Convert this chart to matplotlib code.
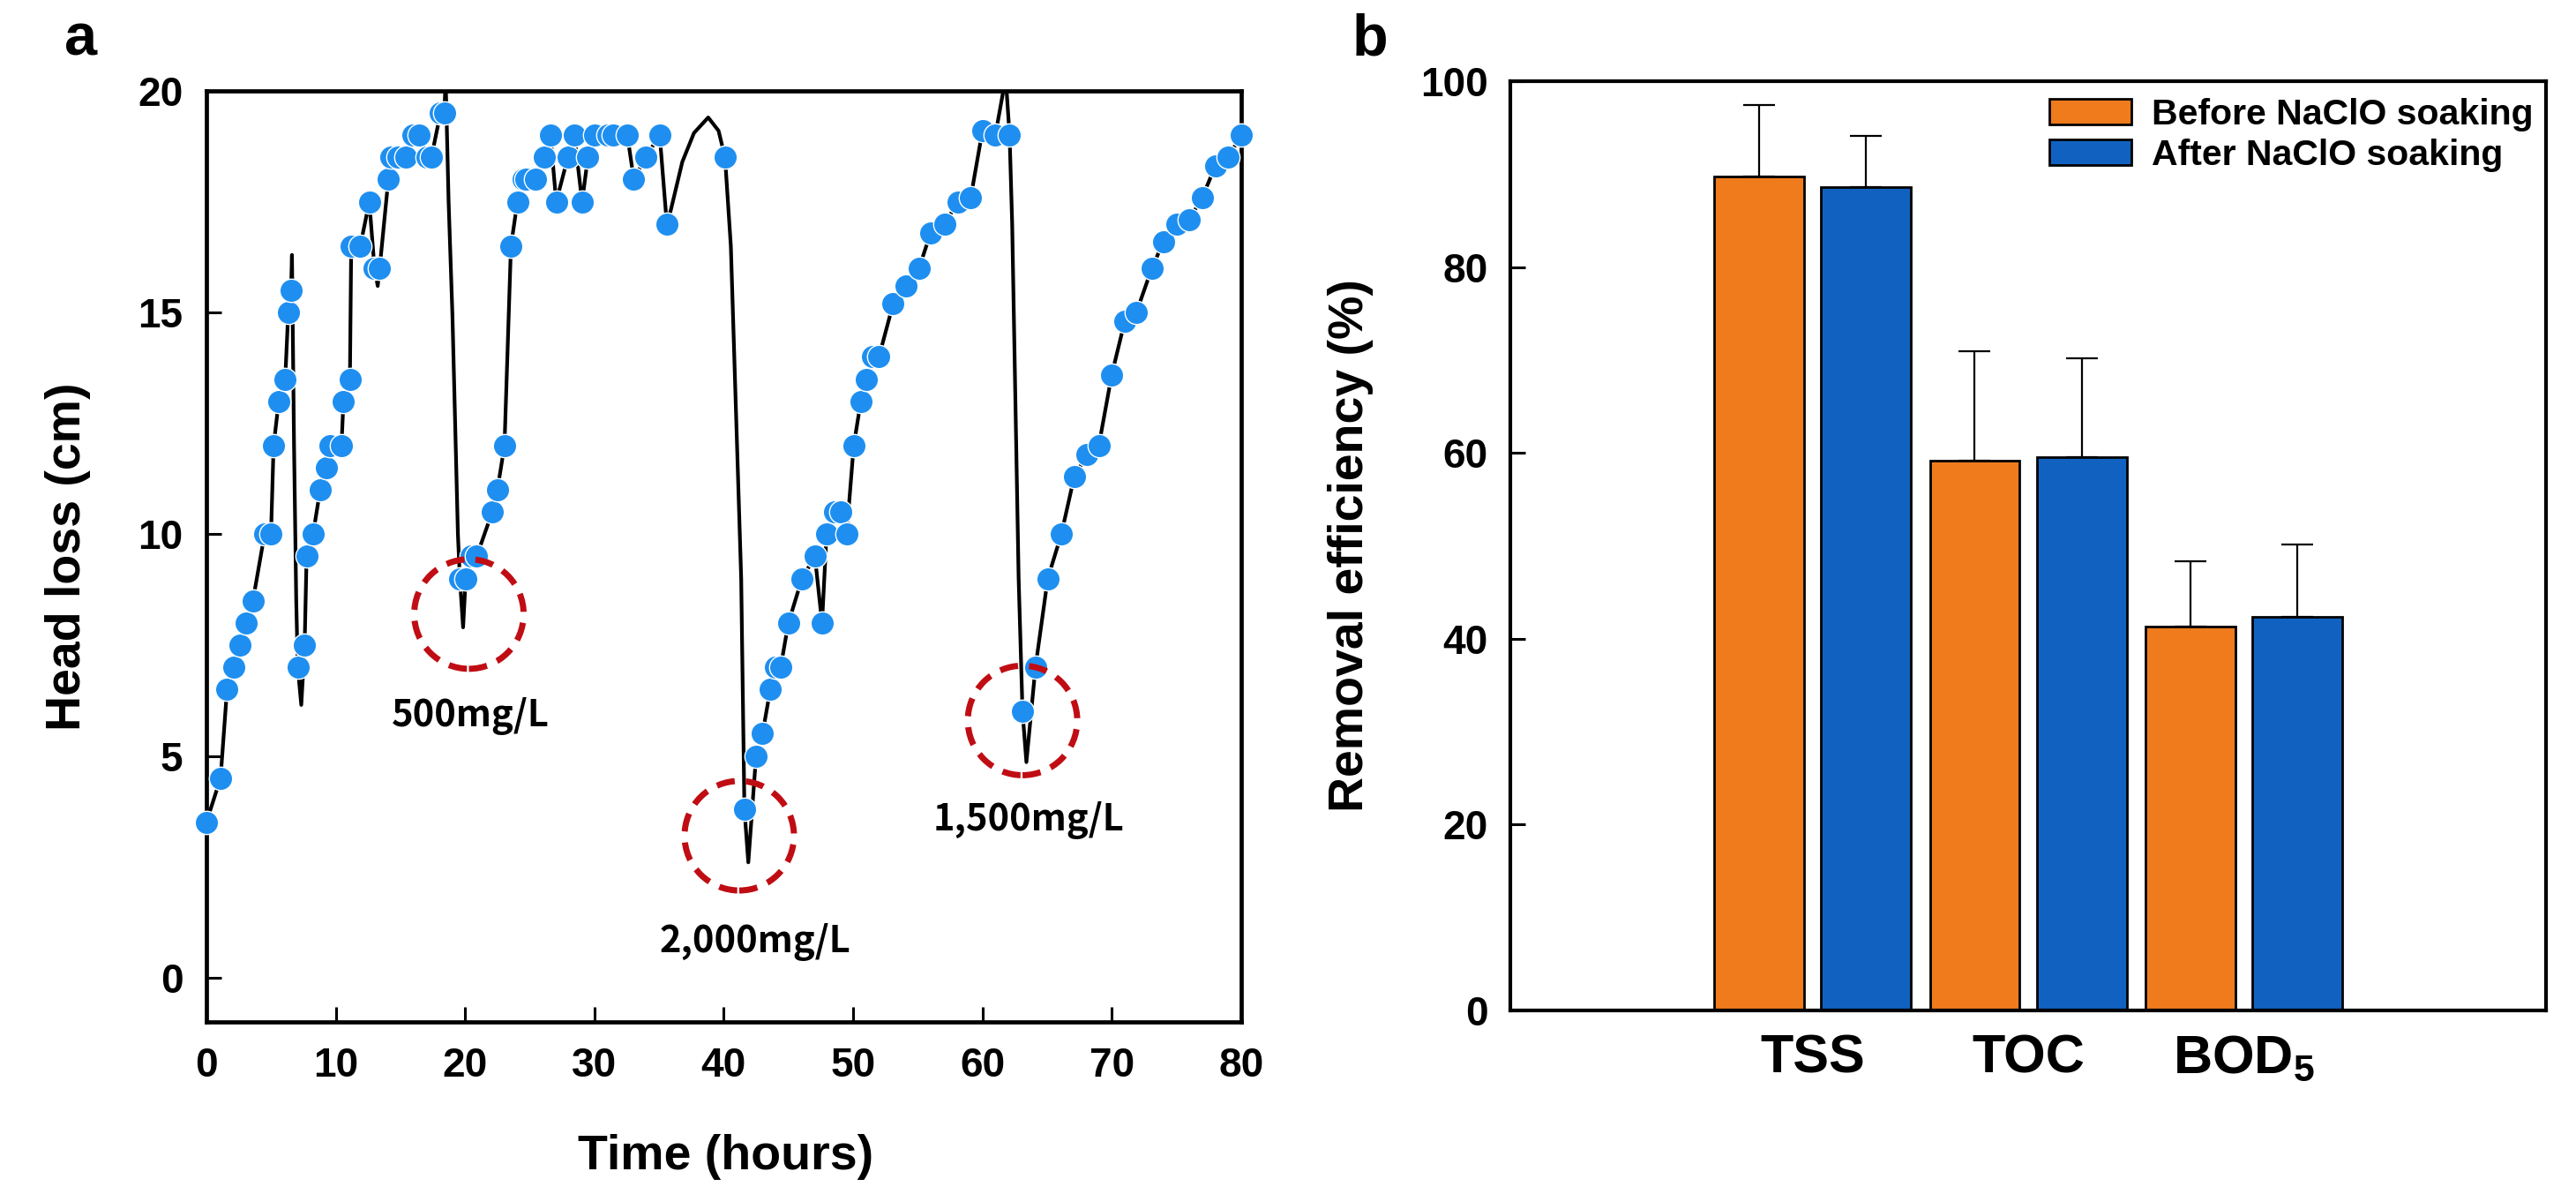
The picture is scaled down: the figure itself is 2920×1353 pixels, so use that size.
import matplotlib
matplotlib.use("Agg")
import matplotlib.pyplot as plt
from matplotlib.patches import Ellipse
import numpy as np

plt.rcParams['font.family'] = ['Liberation Sans', 'DejaVu Sans']
plt.rcParams['font.weight'] = 'bold'
plt.rcParams['mathtext.fontset'] = 'custom'
plt.rcParams['mathtext.rm'] = 'Liberation Sans:bold'
plt.rcParams['mathtext.bf'] = 'Liberation Sans:bold'
plt.rcParams['mathtext.default'] = 'bf'

# ---- panel a: head loss measurements (markers) ----
time_pts = [0.0, 1.1, 1.6, 2.1, 2.6, 3.1, 3.6, 4.5, 5.0, 5.2, 5.6, 6.1, 6.33, 6.55,
            7.07, 7.6, 7.75, 8.25, 8.8, 9.3, 9.55, 10.45, 10.6, 11.1, 11.2, 11.9, 12.6,
            13.0, 13.4, 14.07, 14.25, 14.8, 15.4, 16.0, 16.45, 17.05, 17.4, 18.1, 18.4,
            19.6, 20.05, 20.45, 20.9, 22.1, 22.5, 23.05, 23.55, 24.05, 24.5, 24.7, 25.45,
            26.15, 26.6, 27.05, 27.95, 28.45, 29.05, 29.5, 30.0, 31.05, 31.45, 32.55,
            33.05, 33.95, 35.05, 35.6, 40.1,
            41.6, 42.5, 43.0, 43.6, 44.0, 44.4, 45.0, 46.05, 47.05, 47.6, 47.95, 48.55,
            49.05, 49.5, 50.05, 50.6, 51.05, 51.5, 52.0, 53.1, 54.1, 55.1, 56.0, 57.1,
            58.1, 59.1, 60.0, 61.0, 62.1,
            63.1, 64.1, 65.05, 66.1, 67.1, 68.1, 69.0, 70.0, 71.0, 71.9, 73.1, 74.0,
            75.0, 76.0, 77.0, 78.0, 79.0, 80.0]
head_pts = [3.5, 4.5, 6.5, 7.0, 7.5, 8.0, 8.5, 10.0, 10.0, 12.0, 13.0, 13.5, 15.0, 15.5,
            7.0, 7.5, 9.5, 10.0, 11.0, 11.5, 12.0, 12.0, 13.0, 13.5, 16.5, 16.5, 17.5,
            16.0, 16.0, 18.0, 18.5, 18.5, 18.5, 19.0, 19.0, 18.5, 18.5, 19.5, 19.5,
            9.0, 9.0, 9.5, 9.5, 10.5, 11.0, 12.0, 16.5, 17.5, 18.0, 18.0, 18.0,
            18.5, 19.0, 17.5, 18.5, 19.0, 17.5, 18.5, 19.0, 19.0, 19.0, 19.0,
            18.0, 18.5, 19.0, 17.0, 18.5,
            3.8, 5.0, 5.5, 6.5, 7.0, 7.0, 8.0, 9.0, 9.5, 8.0, 10.0, 10.5,
            10.5, 10.0, 12.0, 13.0, 13.5, 14.0, 14.0, 15.2, 15.6, 16.0, 16.8, 17.0,
            17.5, 17.6, 19.1, 19.0, 19.0,
            6.0, 7.0, 9.0, 10.0, 11.3, 11.8, 12.0, 13.6, 14.8, 15.0, 16.0, 16.6,
            17.0, 17.1, 17.6, 18.3, 18.5, 19.0]

# extra turning points of the fitted curve (peaks / dips)
curve_t = [6.62, 6.78, 6.95, 7.34, 13.25, 18.5, 18.73, 19.03, 19.45, 19.85,
           35.9, 36.8, 37.7, 38.8, 39.6, 40.55, 41.35, 41.9,
           61.8, 62.3, 62.8, 63.4]
curve_h = [16.3, 12.0, 8.5, 6.15, 15.6, 20.3, 17.5, 14.9, 10.0, 7.9,
           17.3, 18.4, 19.05, 19.4, 19.1, 16.5, 9.0, 2.6,
           20.3, 17.0, 9.0, 4.86]

# NaClO dosing events (circle centre, label position)
event_labels = ['500mg/L', '2,000mg/L', '1,500mg/L']
event_t = [20.3, 41.2, 63.1]
event_h = [8.2, 3.2, 5.8]
label_t = [20.4, 42.4, 63.6]
label_h = [5.9, 0.8, 3.55]

# ---- panel b: removal efficiency ----
params = ['TSS', 'TOC', r'BOD$_5$']
before = [89.7, 59.2, 41.3]
before_err = [7.7, 11.7, 7.0]
after = [88.6, 59.5, 42.4]
after_err = [5.5, 10.7, 7.7]

fig = plt.figure(figsize=(29.2, 13.53), dpi=100)
ax1 = fig.add_axes([0.0801, 0.1441, 0.4017, 0.7798])
ax2 = fig.add_axes([0.5863, 0.1537, 0.4021, 0.7783])

# line through markers and curve points, in time order
all_t = np.array(time_pts + curve_t)
all_h = np.array(head_pts + curve_h)
order = np.argsort(all_t)
ax1.plot(all_t[order], all_h[order], color='black', lw=3.0, zorder=2)
ax1.plot(time_pts, head_pts, 'o', ms=19, mfc='#1e8ff0', mec='white', mew=1.0,
         clip_on=False, zorder=3)

for t, h in zip(event_t, event_h):
    ax1.add_patch(Ellipse((t, h), width=8.46, height=2.47, fill=False, ec='#c00d14',
                          lw=5.0, ls=(0, (3.0, 1.8)), zorder=4))
for lab, t, h in zip(event_labels, label_t, label_h):
    ax1.text(t, h, lab, ha='center', va='center', fontsize=30, fontweight='bold',
             family=['Noto Sans CJK KR', 'DejaVu Sans'])

ax1.set_xlim(0, 80)
ax1.set_ylim(-1, 20)
ax1.set_xticks(range(0, 81, 10))
ax1.set_yticks(range(0, 21, 5))
ax1.tick_params(direction='in', length=12, width=2.2, labelsize=33, pad=19)
ax1.tick_params(axis='x', pad=20)
for s in ax1.spines.values():
    s.set_linewidth(3.4)
ax1.set_xlabel('Time (hours)', fontsize=40, fontweight='bold')
ax1.set_ylabel('Head loss (cm)', fontsize=40, fontweight='bold')
ax1.xaxis.set_label_coords(0.502, -0.12)
ax1.yaxis.set_label_coords(-0.112, 0.5)

# bars
x = np.arange(len(params))
off = 0.248
w = 0.416
ax2.bar(x - off, before, w, color='#ef7b1d', edgecolor='black', lw=2,
        label='Before NaClO soaking', zorder=2)
ax2.bar(x + off, after, w, color='#1162c0', edgecolor='black', lw=2,
        label='After NaClO soaking', zorder=2)
ax2.errorbar(x - off, before, yerr=[np.zeros(3), before_err], fmt='none', ecolor='black',
             elinewidth=1.6, capsize=13, capthick=1.6, zorder=1)
ax2.errorbar(x + off, after, yerr=[np.zeros(3), after_err], fmt='none', ecolor='black',
             elinewidth=1.6, capsize=13, capthick=1.6, zorder=1)

ax2.set_xlim(-1.4, 3.4)
ax2.set_ylim(0, 100)
ax2.set_yticks(range(0, 101, 20))
ax2.set_xticks(x)
ax2.set_xticklabels(params, fontsize=44, fontweight='bold')
ax2.tick_params(axis='x', length=0, pad=19)
ax2.tick_params(axis='y', direction='in', length=12, width=2.2, labelsize=33, pad=18)
for s in ax2.spines.values():
    s.set_linewidth(3.0)
ax2.set_ylabel('Removal efficiency (%)', fontsize=40, fontweight='bold')
ax2.yaxis.set_label_coords(-0.132, 0.5)

ax2.legend(loc='upper left', bbox_to_anchor=(0.5204, 0.982), frameon=False,
           prop={'weight': 'bold', 'size': 29.5}, handlelength=2.27, handleheight=0.7,
           handletextpad=0.56, labelspacing=0.2, borderpad=0, borderaxespad=0)

fig.text(0.0312, 0.954, 'a', fontsize=48, fontweight='bold', ha='center', va='baseline')
fig.text(0.532, 0.954, 'b', fontsize=48, fontweight='bold', ha='center', va='baseline')

fig.savefig('out.png', dpi=100)
